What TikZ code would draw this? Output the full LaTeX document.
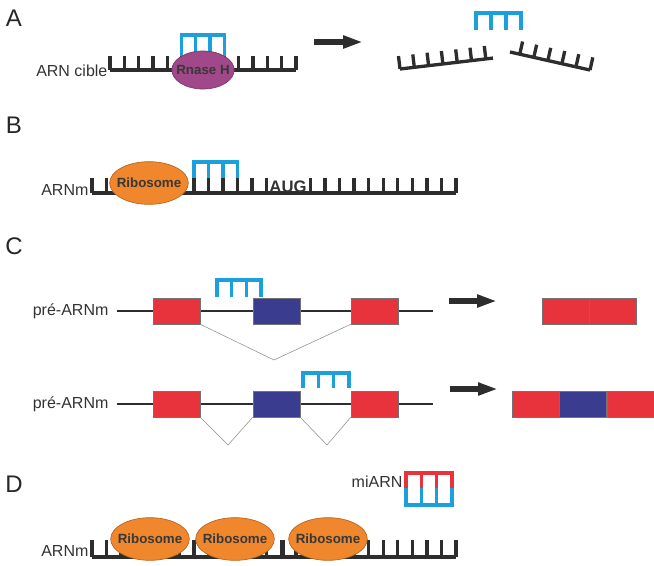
\documentclass[tikz,border=0pt]{standalone}
\usepackage{fontspec}
\setmainfont{Liberation Sans}
\usetikzlibrary{shapes.geometric,arrows.meta}

\definecolor{asoblue}{RGB}{27,160,220}
\definecolor{mirred}{RGB}{232,50,60}
\definecolor{exonred}{RGB}{232,50,60}
\definecolor{exonblue}{RGB}{58,60,143}
\definecolor{riboorange}{RGB}{240,135,45}
\definecolor{rnaseviolet}{RGB}{160,72,138}
\definecolor{rnagray}{RGB}{45,45,45}

\tikzset{
  rna/.style={line width=2.5pt, draw=rnagray},
  aso/.style={line width=2.5pt, draw=asoblue},
  mir/.style={line width=2.5pt, draw=mirred},
  ribo/.style={ellipse, draw=riboorange!75!black, line width=0.5pt, fill=riboorange,
    minimum width=59pt, minimum height=32pt, inner xsep=-4pt, inner ysep=0pt,
    font=\bfseries\fontsize{10}{12}\selectfont, text=black!78},
  rnase/.style={ellipse, draw=rnaseviolet!75!black, line width=0.5pt, fill=rnaseviolet,
    minimum width=46.5pt, minimum height=28.5pt, inner xsep=-3.5pt, inner ysep=0pt,
    font=\bfseries\fontsize{10}{12}\selectfont, text=black!78},
  exon/.style={rectangle, draw=black!55, line width=0.4pt,
    minimum width=35.25pt, minimum height=19.5pt, inner sep=0pt},
  intron/.style={draw=black!45, line width=0.4pt},
  premrna/.style={draw=rnagray, line width=1pt},
  rnalabel/.style={font=\fontsize{12}{14}\selectfont, text=black!80, anchor=east, inner sep=1pt},
  panelname/.style={font=\fontsize{18}{20}\selectfont, text=black!85},
  bigarrow/.style={line width=4pt, draw=rnagray, -{Triangle[length=15pt,width=9pt]}}
}

\begin{document}
\begin{tikzpicture}[x=0.75pt, y=-0.75pt]
  \useasboundingbox (0,0) rectangle (654,565);

  % A : Rnase H
  \node[panelname] (lettA) at (14,18) {A};
  \node[rnalabel] (cible) at (109,71) {ARN cible};
  \draw[rna] (110,70) -- (296,70);
  \foreach \k in {0,...,13}
    \draw[rna] ({110+14.3*\k},70) -- ({110+14.3*\k},56);
  \draw[aso] (181.5,56) -- (181.5,35) -- (224.4,35) -- (224.4,56);
  \draw[aso] (195.8,35) -- (195.8,56) (210.1,35) -- (210.1,56);
  \node[rnase] (rnaseh) at (203,70) {Rnase H};

  \coordinate (arrA1) at (314,42);
  \coordinate (arrA2) at (363,42);
  \draw[bigarrow] (arrA1) -- (arrA2);

  \begin{scope}[shift={(400,69)}, rotate=6.7]
    \draw[rna] (0,0) -- (93.6,0);
    \foreach \k in {0,...,6}
      \draw[rna] ({14.4*\k},0) -- ({14.4*\k},-13);
  \end{scope}
  \begin{scope}[shift={(510,52)}, rotate=-12.7]
    \draw[rna] (0,0) -- (82,0);
    \foreach \k in {0,...,5}
      \draw[rna] ({82-14.4*\k},0) -- ({82-14.4*\k},-13);
  \end{scope}
  \draw[aso] (476,30) -- (476,13) -- (521,13) -- (521,30);
  \draw[aso] (491,13) -- (491,30) (506,13) -- (506,30);

  % B : ribosome blocked
  \node[panelname] (lettB) at (14,125) {B};
  \node[rnalabel] (arnmB) at (90,190) {ARNm};
  \draw[rna] (92,193) -- (456,193);
  \foreach \k in {0,...,12,15,16,...,25}
    \draw[rna] ({92+14.56*\k},193) -- ({92+14.56*\k},178);
  \draw[aso] (193.9,178) -- (193.9,162) -- (237.6,162) -- (237.6,178);
  \draw[aso] (208.5,162) -- (208.5,178) (223,162) -- (223,178);
  \node[ribo] (riboB) at (149,183) {Ribosome};
  \node[anchor=base, inner sep=0pt, font=\bfseries\fontsize{12.5}{14}\selectfont, text=black!80]
    (aug) at (288,192) {AUG};

  % C : splicing
  \node[panelname] (lettC) at (14,246) {C};
  \node[rnalabel] (preA) at (110,311) {pré-ARNm};
  \coordinate (endA) at (433,311);
  \draw[premrna] ([xshift=5pt]preA.east) -- (endA);
  \node[exon, fill=exonred] (ex1a) at (176.5,311) {};
  \node[exon, fill=exonblue] (ex2a) at (276.5,311) {};
  \node[exon, fill=exonred] (ex3a) at (374.5,311) {};
  \coordinate (brA) at (274,360);
  \draw[intron] (ex1a.south east) -- (brA) -- (ex3a.south west);
  \draw[aso] (217,297) -- (217,280) -- (261,280) -- (261,297);
  \draw[aso] (231.7,280) -- (231.7,297) (246.3,280) -- (246.3,297);

  \coordinate (arrC1) at (449,301);
  \coordinate (arrC2) at (497,301);
  \draw[bigarrow] (arrC1) -- (arrC2);
  \node[exon, fill=exonred] (res1a) at (565.5,311) {};
  \node[exon, fill=exonred, anchor=west] (res1b) at (res1a.east) {};

  \node[rnalabel] (preB) at (110,404) {pré-ARNm};
  \coordinate (endB) at (433,404);
  \draw[premrna] ([xshift=5pt]preB.east) -- (endB);
  \node[exon, fill=exonred] (ex1b) at (176.5,404) {};
  \node[exon, fill=exonblue] (ex2b) at (276.5,404) {};
  \node[exon, fill=exonred] (ex3b) at (374.5,404) {};
  \coordinate (brB1) at (228,445);
  \coordinate (brB2) at (327,445);
  \draw[intron] (ex1b.south east) -- (brB1) -- (ex2b.south west);
  \draw[intron] (ex2b.south east) -- (brB2) -- (ex3b.south west);
  \draw[aso] (303,388) -- (303,373) -- (349,373) -- (349,388);
  \draw[aso] (318.3,373) -- (318.3,388) (333.7,373) -- (333.7,388);

  \coordinate (arrD1) at (450,389);
  \coordinate (arrD2) at (498,389);
  \draw[bigarrow] (arrD1) -- (arrD2);
  \node[exon, fill=exonred] (res2a) at (535.5,404) {};
  \node[exon, fill=exonblue, anchor=west] (res2b) at (res2a.east) {};
  \node[exon, fill=exonred, anchor=west] (res2c) at (res2b.east) {};

  % D : miARN
  \node[panelname] (lettD) at (14,484) {D};
  \node[rnalabel] (mirna) at (404,482) {miARN};
  \draw[mir] (406,489) -- (406,473) -- (452,473) -- (452,489);
  \draw[mir] (421.3,473) -- (421.3,489) (436.7,473) -- (436.7,489);
  \draw[aso] (406,488) -- (406,505) -- (452,505) -- (452,488);
  \draw[aso] (421.3,488) -- (421.3,505) (436.7,488) -- (436.7,505);

  \node[rnalabel] (arnmD) at (90,551) {ARNm};
  \draw[rna] (92,557) -- (456,557);
  \foreach \k in {0,...,25}
    \draw[rna] ({92+14.56*\k},557) -- ({92+14.56*\k},540);
  \draw[rna] (283,557) -- (283,540);
  \node[ribo] (riboD1) at (150,539) {Ribosome};
  \node[ribo] (riboD2) at (235,539) {Ribosome};
  \node[ribo] (riboD3) at (328,539) {Ribosome};
\end{tikzpicture}
\end{document}
